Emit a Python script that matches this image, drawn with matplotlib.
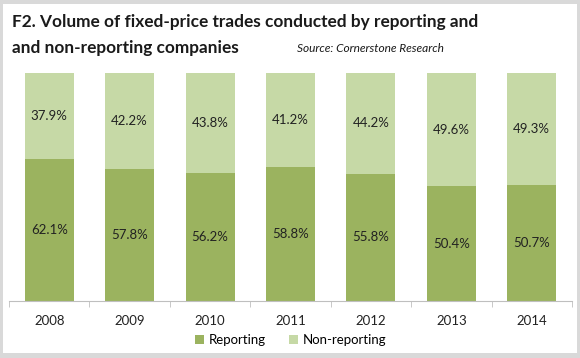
from matplotlib import pyplot as plt
from matplotlib.patches import Rectangle
import numpy as np

years = ['2008', '2009', '2010', '2011', '2012', '2013', '2014']
reporting = [62.1, 57.8, 56.2, 58.8, 55.8, 50.4, 50.7]
non_reporting = [37.9, 42.2, 43.8, 41.2, 44.2, 49.6, 49.3]

dark = '#9bb35f'
light = '#c6d9a6'

W, H = 580, 358
fig = plt.figure(figsize=(W / 100, H / 100), dpi=100, facecolor='#d9d9d9')
fig.patches.append(Rectangle((3 / W, 5 / H), 574 / W, 349 / H, transform=fig.transFigure,
                             facecolor='white', edgecolor='none', zorder=-5))

fig.text(12 / W, 1 - 22 / H, 'F2. Volume of fixed-price trades conducted by reporting and',
         fontsize=12.4, fontweight='bold', family='Lato', va='center', color='#1a1a1a')
fig.text(12 / W, 1 - 48 / H, 'and non-reporting companies',
         fontsize=12.4, fontweight='bold', family='Lato', va='center', color='#1a1a1a')
fig.text(297 / W, 1 - 48 / H, 'Source: Cornerstone Research',
         fontsize=8.6, style='italic', family='Lato', va='center', color='#1a1a1a')

ax = fig.add_axes([9 / W, 1 - 301 / H, 563 / W, 228 / H])
x = np.arange(len(years))
ax.bar(x, reporting, width=0.61, color=dark, label='Reporting')
ax.bar(x, non_reporting, width=0.61, bottom=reporting, color=light, label='Non-reporting')

for i in range(len(years)):
    ax.text(x[i], reporting[i] / 2, f'{reporting[i]:.1f}%', ha='center', va='center',
            fontsize=9.5, family='Lato', color='#222222')
    ax.text(x[i], reporting[i] + non_reporting[i] / 2, f'{non_reporting[i]:.1f}%',
            ha='center', va='center', fontsize=9.5, family='Lato', color='#222222')

ax.set_xlim(-0.5, len(years) - 0.5)
ax.set_ylim(0, 100)
ax.set_xticks(x)
ax.set_xticklabels(years, family='Lato', fontsize=9.5, color='#222222')
ax.set_xticks(np.arange(-0.5, len(years)), minor=True)
ax.tick_params(axis='x', which='major', length=0, pad=10)
ax.tick_params(axis='x', which='minor', length=4, color='#bfbfbf')
ax.set_yticks([])
for s in ['top', 'left', 'right']:
    ax.spines[s].set_visible(False)
ax.spines['bottom'].set_color('#bfbfbf')
ax.set_facecolor('none')

ax.legend(loc='center', bbox_to_anchor=(0.5, -0.17), ncol=2, frameon=False,
          prop={'family': 'Lato', 'size': 9.5}, handlelength=0.7, handleheight=0.7,
          handletextpad=0.3, columnspacing=1.8)

fig.savefig('out.png', dpi=100, facecolor=fig.get_facecolor())
